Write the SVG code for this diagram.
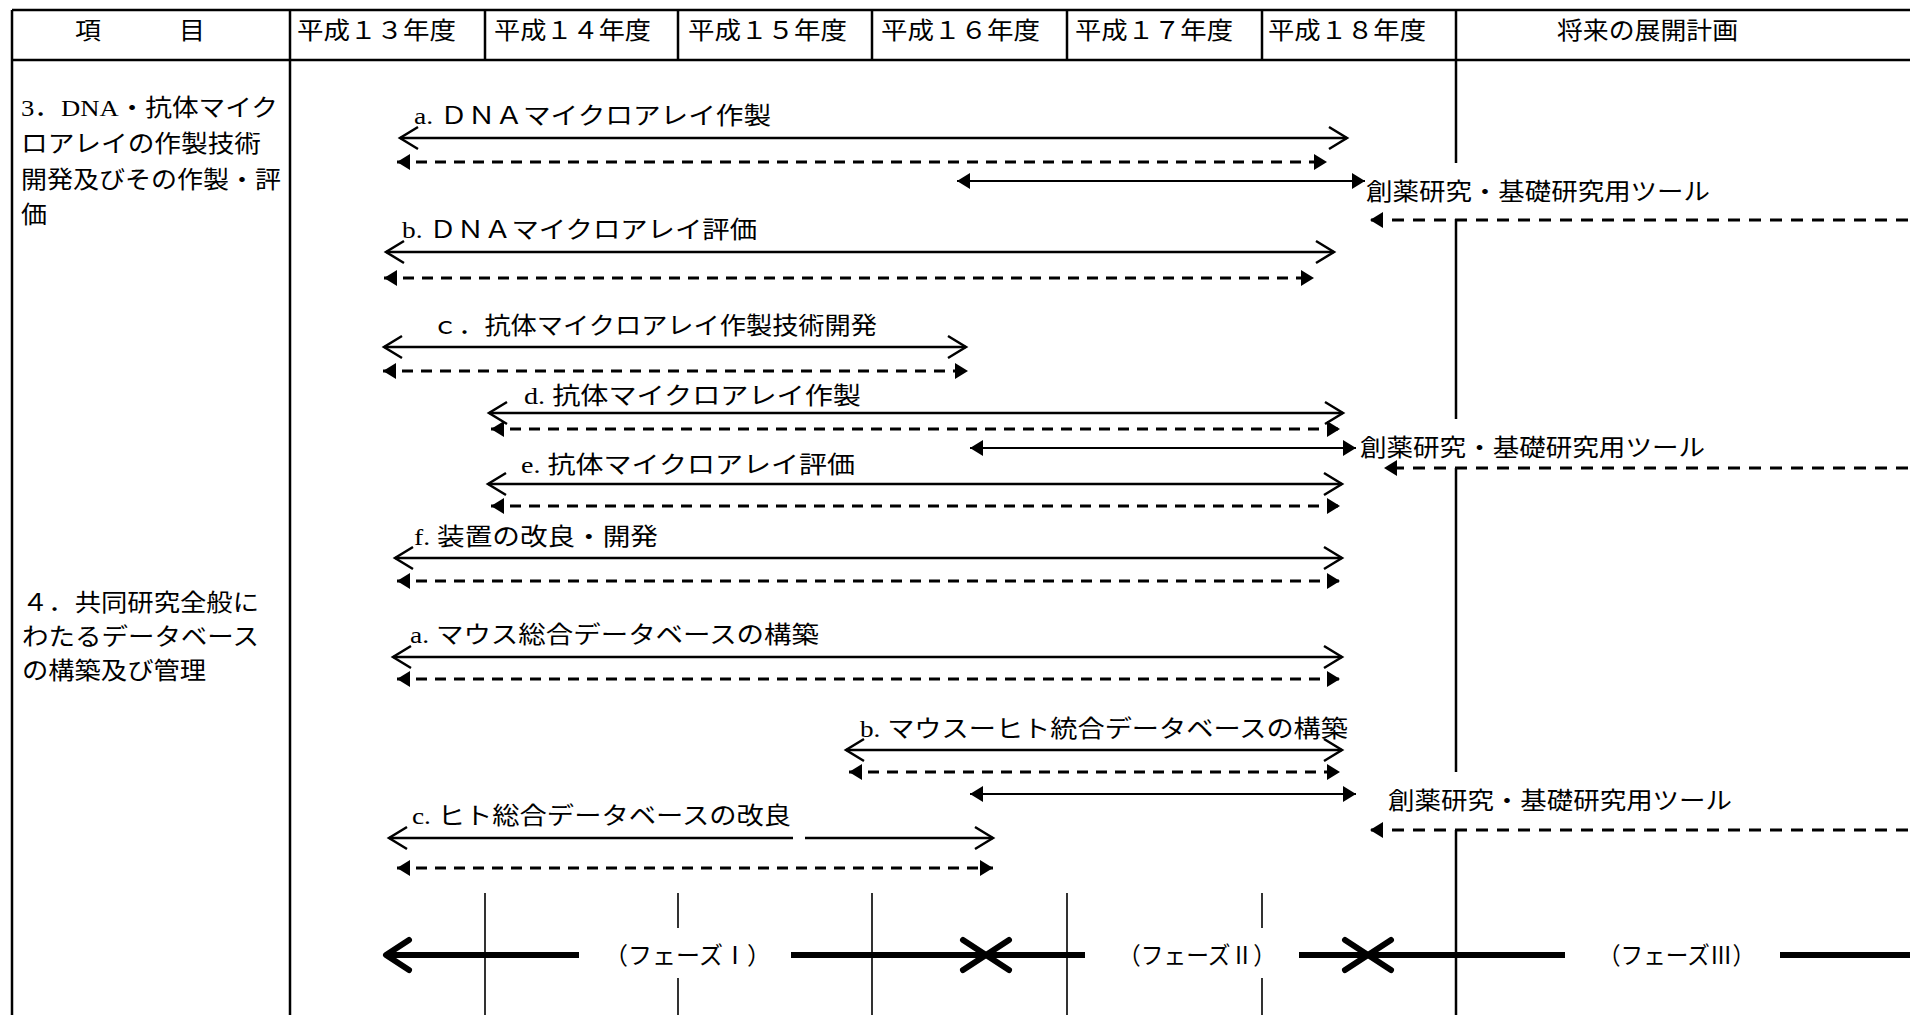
<svg xmlns="http://www.w3.org/2000/svg" width="1910" height="1015" viewBox="0 0 1910 1015">
<defs>
<style>
text{font-family:"Liberation Serif","Noto Sans CJK JP",serif;font-size:24px;fill:#000}
.grid{stroke:#000;stroke-width:2.5;fill:none}
.thin{stroke:#000;stroke-width:1.6;fill:none}
.sol{stroke:#000;stroke-width:2.6;fill:none;marker-start:url(#open);marker-end:url(#open)}
.dash{stroke:#000;stroke-width:2.8;stroke-dasharray:11 8;fill:none;marker-start:url(#tri);marker-end:url(#tri)}
.conn{stroke:#000;stroke-width:2.2;fill:none;marker-start:url(#tri);marker-end:url(#tri)}
.ret{stroke:#000;stroke-width:2.8;stroke-dasharray:12 9;fill:none;marker-end:url(#tri)}
.ph{stroke:#000;stroke-width:6;fill:none}
.phs{marker-start:url(#big)}
.phe{marker-end:url(#big)}
</style>
<marker id="open" markerUnits="userSpaceOnUse" markerWidth="40" markerHeight="40" orient="auto-start-reverse" overflow="visible"><path d="M-18,-11 L0,0 L-18,11" fill="none" stroke="#000" stroke-width="2.5"/></marker>
<marker id="tri" markerUnits="userSpaceOnUse" markerWidth="40" markerHeight="40" orient="auto-start-reverse" overflow="visible"><path d="M-13,-8 L0,0 L-13,8 Z" fill="#000"/></marker>
<marker id="big" markerUnits="userSpaceOnUse" markerWidth="60" markerHeight="60" orient="auto-start-reverse" overflow="visible"><path d="M-23,-15 L0,0 L-23,15" fill="none" stroke="#000" stroke-width="6" stroke-linecap="round" stroke-linejoin="round"/></marker>
</defs>
<rect width="1910" height="1015" fill="#fff"/>

<g id="table">
<path class="grid" d="M12,10 H1910 M12,60 H1910 M12,10 V1015 M290,10 V1015 M485,10 V60 M678,10 V60 M872,10 V60 M1067,10 V60 M1262,10 V60 M1456,10 V163 M1456,219 V419 M1456,468 V772 M1456,830 V1015"/>
<path class="thin" d="M485,893 V1015 M678,893 V928 M678,978 V1015 M872,893 V1015 M1067,893 V1015 M1262,893 V928 M1262,978 V1015"/>
</g>

<g id="header">
<text x="75" y="39" textLength="130" lengthAdjust="spacingAndGlyphs">項　　　目</text>
<text x="297" y="39" textLength="159" lengthAdjust="spacingAndGlyphs">平成１３年度</text>
<text x="494" y="39" textLength="157" lengthAdjust="spacingAndGlyphs">平成１４年度</text>
<text x="688" y="39" textLength="159" lengthAdjust="spacingAndGlyphs">平成１５年度</text>
<text x="881" y="39" textLength="159" lengthAdjust="spacingAndGlyphs">平成１６年度</text>
<text x="1075" y="39" textLength="158" lengthAdjust="spacingAndGlyphs">平成１７年度</text>
<text x="1268" y="39" textLength="158" lengthAdjust="spacingAndGlyphs">平成１８年度</text>
<text x="1557" y="39" textLength="181" lengthAdjust="spacingAndGlyphs">将来の展開計画</text>
</g>

<g id="item3">
<text x="21" y="116" textLength="257" lengthAdjust="spacingAndGlyphs">3．DNA・抗体マイク</text>
<text x="21" y="152" textLength="240" lengthAdjust="spacingAndGlyphs">ロアレイの作製技術</text>
<text x="21" y="188" textLength="260" lengthAdjust="spacingAndGlyphs">開発及びその作製・評</text>
<text x="21" y="223" textLength="26" lengthAdjust="spacingAndGlyphs">価</text>
</g>
<g id="item4">
<text x="22" y="611" textLength="237" lengthAdjust="spacingAndGlyphs">４．共同研究全般に</text>
<text x="22" y="645" textLength="237" lengthAdjust="spacingAndGlyphs">わたるデータベース</text>
<text x="22" y="679" textLength="184" lengthAdjust="spacingAndGlyphs">の構築及び管理</text>
</g>

<g id="labels">
<text x="414" y="124" textLength="357" lengthAdjust="spacingAndGlyphs">a. ＤＮＡマイクロアレイ作製</text>
<text x="402" y="238" textLength="355" lengthAdjust="spacingAndGlyphs">b. ＤＮＡマイクロアレイ評価</text>
<text x="432" y="334" textLength="445" lengthAdjust="spacingAndGlyphs">ｃ．抗体マイクロアレイ作製技術開発</text>
<text x="524" y="404" textLength="337" lengthAdjust="spacingAndGlyphs">d. 抗体マイクロアレイ作製</text>
<text x="521" y="473" textLength="334" lengthAdjust="spacingAndGlyphs">e. 抗体マイクロアレイ評価</text>
<text x="414" y="545" textLength="244" lengthAdjust="spacingAndGlyphs">f. 装置の改良・開発</text>
<text x="410" y="643" textLength="409" lengthAdjust="spacingAndGlyphs">a. マウス総合データベースの構築</text>
<text x="860" y="737" textLength="488" lengthAdjust="spacingAndGlyphs">b. マウスーヒト統合データベースの構築</text>
<text x="412" y="824" textLength="379" lengthAdjust="spacingAndGlyphs">c. ヒト総合データベースの改良</text>
<text x="1366" y="200" textLength="344" lengthAdjust="spacingAndGlyphs">創薬研究・基礎研究用ツール</text>
<text x="1360" y="456" textLength="345" lengthAdjust="spacingAndGlyphs">創薬研究・基礎研究用ツール</text>
<text x="1388" y="809" textLength="344" lengthAdjust="spacingAndGlyphs">創薬研究・基礎研究用ツール</text>
<text x="604" y="964" textLength="167" lengthAdjust="spacingAndGlyphs">（フェーズⅠ）</text>
<text x="1118" y="964" textLength="158" lengthAdjust="spacingAndGlyphs">（フェーズⅡ）</text>
<text x="1598" y="964" textLength="157" lengthAdjust="spacingAndGlyphs">（フェーズⅢ）</text>
</g>

<g id="connectors">
<path class="sol" d="M400,138 H1347"/>
<path class="dash" d="M397,162 H1327"/>
<path class="conn" d="M957,181 H1365"/>
<path class="ret" d="M1908,220 H1370"/>
<path class="sol" d="M386,252 H1334"/>
<path class="dash" d="M384,278 H1314"/>
<path class="sol" d="M384,347 H966"/>
<path class="dash" d="M383,371 H968"/>
<path class="sol" d="M489,413 H1343"/>
<path class="dash" d="M491,429 H1340"/>
<path class="conn" d="M970,448 H1356"/>
<path class="ret" d="M1908,468 H1384"/>
<path class="sol" d="M488,484 H1342"/>
<path class="dash" d="M491,506 H1340"/>
<path class="sol" d="M395,558 H1342"/>
<path class="dash" d="M397,581 H1340"/>
<path class="sol" d="M393,657 H1342"/>
<path class="dash" d="M397,679 H1340"/>
<path class="sol" d="M846,750 H1342"/>
<path class="dash" d="M849,772 H1340"/>
<path class="conn" d="M970,794 H1356"/>
<path class="ret" d="M1908,830 H1370"/>
<path class="sol" d="M389,838 H793 M805,838 H993"/>
<path class="dash" d="M397,868 H993"/>
<path class="ph phs" d="M386,955 H579"/>
<path class="ph phe" d="M791,955 H986"/>
<path class="ph phs" d="M986,955 H1085"/>
<path class="ph phe" d="M1299,955 H1368"/>
<path class="ph phs" d="M1368,955 H1565"/>
<path class="ph" d="M1780,955 H1910"/>
</g>
</svg>
